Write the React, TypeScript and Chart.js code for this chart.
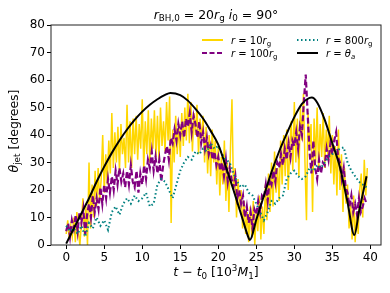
import React, { useEffect, useRef } from 'react';
import { Chart, registerables } from 'chart.js';
Chart.register(...registerables);

// ---- data ----
const X_TICKS = [0, 5, 10, 15, 20, 25, 30, 35, 40];
const Y_TICKS = [0, 10, 20, 30, 40, 50, 60, 70, 80];

// r = 10 r_g (sampled every 0.2 from t=0)
const GOLD_T0 = 0;
const GOLD_DT = 0.2;
const GOLD_V = [
  4, 9, 2, 7, 3,
  10, 1, 12, 5, 0,
  8, 17, 3, 14, 0,
  30, 6, 22, 10, 27,
  14, 28, 16, 24, 40,
  19, 33, 22, 38, 26,
  48, 28, 41, 30, 43,
  27, 44, 33, 39, 28,
  51, 30, 45, 28, 46,
  33, 47, 31, 44, 35,
  53, 28, 45, 33, 49,
  30, 46, 35, 49, 32,
  47, 31, 50, 36, 45,
  34, 52, 38, 54, 8,
  42, 30, 47, 33, 44,
  32, 48, 36, 50, 38,
  55, 37, 52, 34, 48,
  40, 51, 33, 46, 38,
  47, 30, 43, 26, 40,
  25, 42, 30, 38, 22,
  36, 18, 32, 22, 38,
  16, 30, 12, 35, 53,
  20, 28, 10, 24, 13,
  20, 6, 16, 4, 12,
  1, 14, 3, 16, 0,
  12, 5, 18, 2, 14,
  4, 22, 9, 26, 12,
  30, 14, 34, 19, 28,
  16, 38, 22, 40, 25,
  42, 20, 36, 45, 27,
  52, 30, 46, 25, 50,
  38, 55, 30, 9, 48,
  36, 44, 12, 46, 30,
  50, 27, 44, 32, 48,
  28, 42, 33, 47, 26,
  40, 22, 36, 18, 42,
  20, 33, 12, 28, 15,
  22, 6, 15, 2, 18,
  1, 12, 4, 20, 26,
  10, 31, 18, 28,
];

// r = 100 r_g (sampled every 0.25)
const PURPLE_T0 = 0;
const PURPLE_DT = 0.25;
const PURPLE_V = [
  5, 8, 3, 9,
  6, 11, 5, 12,
  8, 13, 4, 11,
  15, 10, 18, 12,
  17, 13, 21, 15,
  22, 17, 24, 19,
  25, 20, 27, 22,
  28, 23, 26, 21,
  27, 22, 29, 23,
  21, 27, 19, 26,
  22, 29, 24, 31,
  28, 34, 27, 32,
  26, 31, 23, 29,
  33, 36, 31, 39,
  37, 42, 38, 44,
  40, 45, 39, 46,
  43, 48, 41, 47,
  44, 39, 45, 37,
  41, 35, 39, 33,
  36, 31, 34, 29,
  32, 27, 30, 25,
  31, 23, 28, 24,
  21, 25, 17, 20,
  15, 18, 10, 14,
  8, 12, 6, 13,
  11, 16, 12, 18,
  17, 22, 16, 24,
  22, 27, 23, 30,
  28, 33, 29, 35,
  31, 37, 32, 38,
  36, 41, 35, 43,
  40, 52, 62, 48,
  34, 26, 38, 28,
  24, 31, 26, 30,
  29, 35, 31, 37,
  33, 38, 41, 32,
  30, 24, 28, 21,
  19, 14, 18, 12,
  15, 11, 17, 12,
  14, 17, 15,
];

// r = 800 r_g (sampled every 0.5)
const TEAL_T0 = 0;
const TEAL_DT = 0.5;
const TEAL_V = [
  7, 5, 6, 4, 7, 3, 8, 6, 10, 7,
  9, 5.5, 12, 14, 11, 15, 17, 15, 18, 16,
  17, 19, 14, 15, 22, 24, 23, 20, 17, 22,
  27, 30, 32, 31, 34, 33, 35, 34, 37, 35,
  36, 33, 31, 30, 26, 23, 21, 22, 19, 18,
  15, 12, 9, 12, 16, 15, 17, 18, 24, 26,
  27, 25, 24, 25, 28, 27, 29, 28, 30, 32,
  33, 34, 35, 35.5, 30, 27, 25, 23, 22, 21,
];

// r = theta_a
const THETA_T = [0, 1, 2, 3, 4, 5, 6, 7, 8, 9, 10, 11, 12, 13, 13.7, 15, 16, 17, 18, 19, 20, 21, 22, 23, 24, 24.15, 25, 26, 27, 28, 29, 30, 31, 32, 32.3, 33, 34, 35, 36, 37, 37.9, 38.5, 39, 39.5];
const THETA_V = [0.5, 6, 11.5, 17, 23, 28.5, 33.5, 38, 42, 45.5, 48.5, 51, 53, 54.6, 55.3, 54.5, 52.5, 49.5, 46, 41.5, 36.5, 28.5, 20, 11.2, 2.5, 1.8, 9.2, 17.9, 26.5, 34, 40.5, 46.5, 51.3, 53.5, 53.6, 51.8, 45.5, 37, 28.3, 15.5, 3.6, 12, 18.5, 25];

const GOLD = '#FFD700';
const PURPLE = '#800080';
const TEAL = '#008080';
const BLACK = '#000000';
const FONT = '"DejaVu Sans", sans-serif';

type Seg = { t: string; it?: boolean; sub?: boolean; sup?: boolean };

function segFont(s: Seg, size: number) {
  const sz = s.sub || s.sup ? size * 0.7 : size;
  return `${s.it ? 'italic ' : ''}${sz}px ${FONT}`;
}
function richWidth(ctx: CanvasRenderingContext2D, segs: Seg[], size: number) {
  let w = 0;
  for (const s of segs) {
    ctx.font = segFont(s, size);
    w += ctx.measureText(s.t).width;
  }
  return w;
}
function drawRich(ctx: CanvasRenderingContext2D, segs: Seg[], x: number, y: number, size: number, align: 'left' | 'center') {
  const w = richWidth(ctx, segs, size);
  let cx = align === 'center' ? x - w / 2 : x;
  ctx.textAlign = 'left';
  ctx.textBaseline = 'alphabetic';
  ctx.fillStyle = '#000';
  for (const s of segs) {
    ctx.font = segFont(s, size);
    const dy = s.sub ? 0.22 * size : s.sup ? -0.4 * size : 0;
    ctx.fillText(s.t, cx, y + dy);
    cx += ctx.measureText(s.t).width;
  }
}

const TITLE: Seg[] = [
  { t: 'r', it: true }, { t: 'BH,0', sub: true }, { t: ' = 20' }, { t: 'r', it: true }, { t: 'g', sub: true },
  { t: ' ' }, { t: 'i', it: true }, { t: '0', sub: true }, { t: ' = 90°' },
];
const XTITLE: Seg[] = [
  { t: 't', it: true }, { t: ' − ' }, { t: 't', it: true }, { t: '0', sub: true }, { t: ' [10' }, { t: '3', sup: true },
  { t: 'M', it: true }, { t: '1', sub: true }, { t: ']' },
];
const YTITLE: Seg[] = [{ t: 'θ', it: true }, { t: 'jet', sub: true }, { t: ' [degrees]' }];

const LEGEND = [
  { segs: [{ t: 'r', it: true }, { t: ' = 10' }, { t: 'r', it: true }, { t: 'g', sub: true }] as Seg[], color: GOLD, dash: [] as number[], width: 2, col: 0, row: 0 },
  { segs: [{ t: 'r', it: true }, { t: ' = 100' }, { t: 'r', it: true }, { t: 'g', sub: true }] as Seg[], color: PURPLE, dash: [5, 2.5], width: 2, col: 0, row: 1 },
  { segs: [{ t: 'r', it: true }, { t: ' = 800' }, { t: 'r', it: true }, { t: 'g', sub: true }] as Seg[], color: TEAL, dash: [1.5, 2.5], width: 2, col: 1, row: 0 },
  { segs: [{ t: 'r', it: true }, { t: ' = ' }, { t: 'θ', it: true }, { t: 'a', it: true, sub: true }] as Seg[], color: BLACK, dash: [], width: 2, col: 1, row: 1 },
];

const decor = {
  id: 'decor',
  afterDraw(chart: any) {
    const ctx: CanvasRenderingContext2D = chart.ctx;
    const a = chart.chartArea;
    ctx.save();
    ctx.strokeStyle = '#222';
    ctx.lineWidth = 1;
    ctx.setLineDash([]);
    ctx.strokeRect(a.left, a.top, a.right - a.left, a.bottom - a.top);
    drawRich(ctx, TITLE, (a.left + a.right) / 2, 18.5, 12.5, 'center');
    drawRich(ctx, XTITLE, (a.left + a.right) / 2, 276, 12.5, 'center');
    ctx.save();
    ctx.translate(17.5, 131);
    ctx.rotate(-Math.PI / 2);
    drawRich(ctx, YTITLE, 0, 0, 12.5, 'center');
    ctx.restore();
    const colX = [202, 297];
    const rowY = [40, 53];
    for (const it of LEGEND) {
      const x0 = colX[it.col];
      const y0 = rowY[it.row];
      ctx.beginPath();
      ctx.strokeStyle = it.color;
      ctx.lineWidth = it.width;
      ctx.setLineDash(it.dash);
      ctx.moveTo(x0, y0);
      ctx.lineTo(x0 + 21, y0);
      ctx.stroke();
      ctx.setLineDash([]);
      drawRich(ctx, it.segs, x0 + 29, y0 + 3.5, 10, 'left');
    }
    ctx.restore();
  },
};

function series(t0: number, dt: number, vals: number[]) {
  return vals.map((v, i) => ({ x: t0 + i * dt, y: v }));
}

export default function App() {
  const ref = useRef<HTMLCanvasElement>(null);
  useEffect(() => {
    if (!ref.current) return;
    const chart = new Chart(ref.current, {
      type: 'line',
      data: {
        datasets: [
          { label: 'r = θa', data: THETA_T.map((t, i) => ({ x: t, y: THETA_V[i] })), borderColor: BLACK, borderWidth: 2, pointRadius: 0, order: 0, cubicInterpolationMode: 'monotone' },
          { label: 'r = 800rg', data: series(TEAL_T0, TEAL_DT, TEAL_V), borderColor: TEAL, borderWidth: 2, borderDash: [1.5, 2.5], pointRadius: 0, order: 1 },
          { label: 'r = 100rg', data: series(PURPLE_T0, PURPLE_DT, PURPLE_V), borderColor: PURPLE, borderWidth: 2.2, borderDash: [6, 3], pointRadius: 0, order: 2 },
          { label: 'r = 10rg', data: series(GOLD_T0, GOLD_DT, GOLD_V), borderColor: GOLD, borderWidth: 1.5, pointRadius: 0, order: 3 },
        ],
      },
      options: {
        responsive: false,
        animation: false,
        devicePixelRatio: 1,
        layout: { padding: { top: 25, right: 9, left: 0, bottom: 0 } },
        plugins: { legend: { display: false }, tooltip: { enabled: false }, title: { display: false } },
        scales: {
          x: {
            type: 'linear',
            min: -2,
            max: 41.4,
            afterBuildTicks: (s: any) => { s.ticks = X_TICKS.map((v) => ({ value: v })); },
            afterFit: (s: any) => { s.height = 48; },
            ticks: { font: { family: FONT, size: 12 }, color: '#000', padding: 2, maxRotation: 0, autoSkip: false },
            grid: { drawOnChartArea: false, drawTicks: true, tickLength: 4, color: '#000' },
            border: { display: false },
          },
          y: {
            type: 'linear',
            min: 0,
            max: 80,
            afterBuildTicks: (s: any) => { s.ticks = Y_TICKS.map((v) => ({ value: v })); },
            afterFit: (s: any) => { s.width = 51; },
            ticks: { font: { family: FONT, size: 12 }, color: '#000', padding: 2, autoSkip: false },
            grid: { drawOnChartArea: false, drawTicks: true, tickLength: 4, color: '#000' },
            border: { display: false },
          },
        },
      },
      plugins: [decor],
    } as any);
    return () => chart.destroy();
  }, []);
  return (
    <div style={{ position: 'fixed', left: 0, top: 0, width: 390, height: 293, background: '#fff' }}>
      <canvas ref={ref} width={390} height={293} style={{ width: 390, height: 293, display: 'block' }} />
    </div>
  );
}
